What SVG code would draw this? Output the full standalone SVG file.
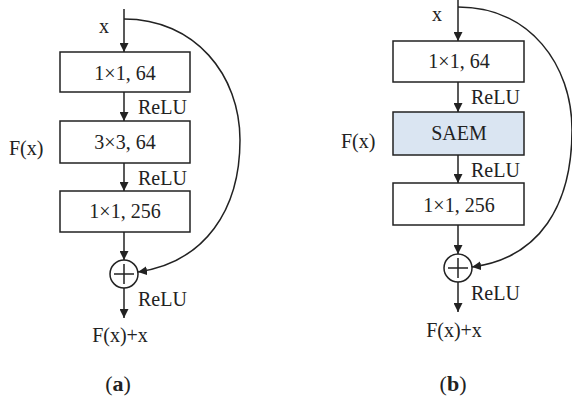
<svg xmlns="http://www.w3.org/2000/svg" width="572" height="399" viewBox="0 0 572 399">
<style>
text{font-family:"Liberation Serif","Times New Roman",serif;font-size:20px;fill:#222}
.box{fill:#fff;stroke:#222;stroke-width:1.5}
.blue{fill:#dae5f2}
.ln{fill:none;stroke:#222;stroke-width:1.5}
.c{text-anchor:middle}
.cap{font-size:22px}
</style>
<defs>
<marker id="ah" viewBox="0 0 10 10" refX="10" refY="5" markerWidth="9" markerHeight="9" markerUnits="userSpaceOnUse" orient="auto">
<path d="M0,0 L10,5 L0,10 Z" fill="#222"/>
</marker>
</defs>
<g id="connectors">
<line class="ln" x1="124" y1="9" x2="124" y2="52" marker-end="url(#ah)"/>
<line class="ln" x1="124" y1="92" x2="124" y2="121" marker-end="url(#ah)"/>
<line class="ln" x1="124" y1="163" x2="124" y2="191" marker-end="url(#ah)"/>
<line class="ln" x1="124" y1="232" x2="124" y2="260" marker-end="url(#ah)"/>
<line class="ln" x1="124" y1="288" x2="124" y2="318" marker-end="url(#ah)"/>
<path class="ln" d="M124,19 C195,19 240,75 240,140 C240,210 205,262 138,272" marker-end="url(#ah)"/>
<line class="ln" x1="458" y1="0" x2="458" y2="41" marker-end="url(#ah)"/>
<line class="ln" x1="458" y1="82" x2="458" y2="112" marker-end="url(#ah)"/>
<line class="ln" x1="458" y1="155" x2="458" y2="183" marker-end="url(#ah)"/>
<line class="ln" x1="458" y1="225" x2="458" y2="254" marker-end="url(#ah)"/>
<line class="ln" x1="458" y1="282" x2="458" y2="312" marker-end="url(#ah)"/>
<path class="ln" d="M458,7 C530,7 572,65 572,130 C572,205 540,258 472,267" marker-end="url(#ah)"/>
</g>
<g id="a-label-x"><text x="104" y="33" class="c">x</text></g>
<g id="a-box1"><rect class="box" x="60" y="52" width="130" height="40"/><text x="125" y="80" class="c">1×1, 64</text></g>
<g id="a-relu1"><text x="138" y="114">ReLU</text></g>
<g id="a-box2"><rect class="box" x="60" y="121" width="130" height="42"/><text x="125" y="149" class="c">3×3, 64</text></g>
<g id="a-fx"><text x="9" y="155">F(x)</text></g>
<g id="a-relu2"><text x="138" y="185">ReLU</text></g>
<g id="a-box3"><rect class="box" x="60" y="191" width="130" height="41"/><text x="125" y="218" class="c">1×1, 256</text></g>
<g id="a-sum"><circle class="box" cx="124" cy="274" r="14"/><path class="ln" d="M114,274 H134 M124,264 V284"/></g>
<g id="a-relu3"><text x="138" y="306">ReLU</text></g>
<g id="a-out"><text x="120" y="342" class="c">F(x)+x</text></g>
<g id="a-cap"><text x="118" y="391" class="c cap">(<tspan font-weight="bold">a</tspan>)</text></g>

<g id="b-label-x"><text x="437" y="21" class="c">x</text></g>
<g id="b-box1"><rect class="box" x="393" y="41" width="131" height="41"/><text x="459" y="68" class="c">1×1, 64</text></g>
<g id="b-relu1"><text x="471" y="104">ReLU</text></g>
<g id="b-box2"><rect class="box blue" x="393" y="112" width="131" height="43"/><text x="459" y="140" class="c">SAEM</text></g>
<g id="b-fx"><text x="341" y="148">F(x)</text></g>
<g id="b-relu2"><text x="471" y="177">ReLU</text></g>
<g id="b-box3"><rect class="box" x="393" y="183" width="131" height="42"/><text x="459" y="212" class="c">1×1, 256</text></g>
<g id="b-sum"><circle class="box" cx="458" cy="268" r="14"/><path class="ln" d="M448,268 H468 M458,258 V278"/></g>
<g id="b-relu3"><text x="471" y="300">ReLU</text></g>
<g id="b-out"><text x="454" y="337" class="c">F(x)+x</text></g>
<g id="b-cap"><text x="453" y="391" class="c cap">(<tspan font-weight="bold">b</tspan>)</text></g>
</svg>
